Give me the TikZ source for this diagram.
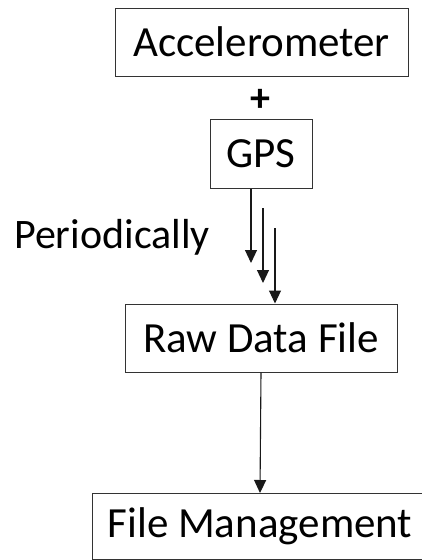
\documentclass[tikz,border=0pt]{standalone}
\usepackage{fontspec}
\setmainfont{Carlito}
\usetikzlibrary{arrows.meta}
\begin{document}
\begin{tikzpicture}[x=1pt,y=-1pt,
  box/.style={draw=black!80, line width=1pt, inner sep=0pt, font=\fontsize{43}{47}\selectfont},
  label/.style={inner sep=0pt, font=\fontsize{43}{47}\selectfont},
  flow/.style={draw=black!90, line width=1.1pt, -{Triangle[width=12pt,length=13pt]}}]
\useasboundingbox (0,0) rectangle (422,560);
% boxes
\node[box, minimum width=293pt, minimum height=68pt] (acc) at (261.5,42) {Accelerometer};
\node[label, font=\fontsize{40}{44}\selectfont\bfseries] (plus) at (260,100) {+};
\node[box, minimum width=102pt, minimum height=69pt] (gps) at (261,153.5) {GPS};
\node[box, minimum width=272pt, minimum height=68pt] (raw) at (261,338) {Raw Data File};
\node[box, minimum width=336pt, minimum height=66pt] (fm) at (260,526.5) {File Management};
% periodic transfer arrows
\node[label, anchor=base west, font=\fontsize{42}{46}\selectfont] (per) at (14,248) {Periodically};
\coordinate (t1) at (251,263);
\coordinate (s2) at (263,208);
\coordinate (t2) at (263,283);
\coordinate (s3) at (275,228);
\coordinate (t3) at (275,303.5);
\draw[flow] ([xshift=-10pt]gps.south) -- (t1);
\draw[flow] (s2) -- (t2);
\draw[flow] (s3) -- (t3);
% hand-off to file management
\draw[flow] (raw.south) -- (fm.north);
\end{tikzpicture}
\end{document}
